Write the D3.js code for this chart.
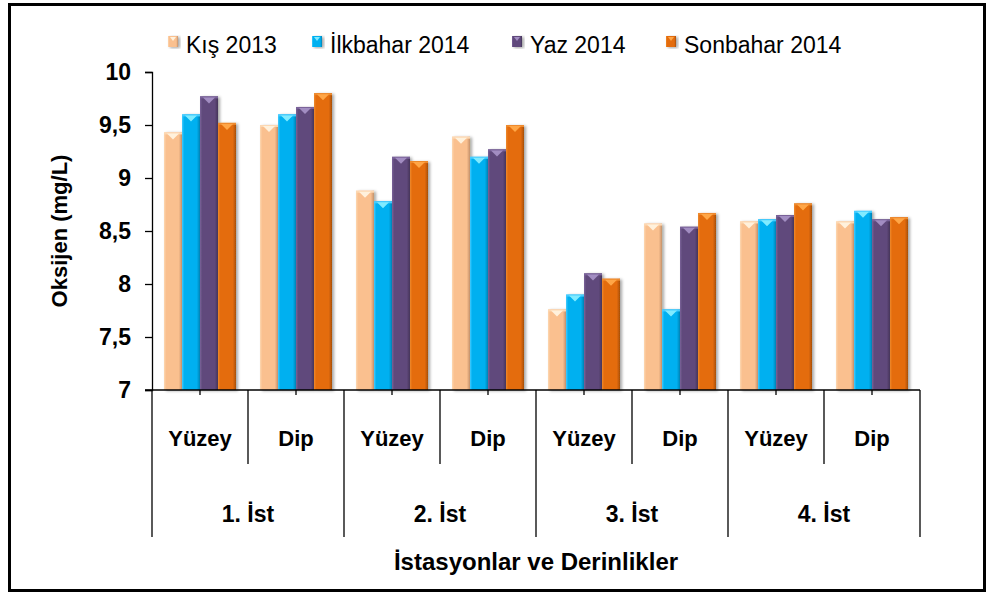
<!DOCTYPE html>
<html>
<head>
<meta charset="utf-8">
<script src="https://cdn.jsdelivr.net/npm/d3@7"></script>
<style>
  body { margin: 0; background: #fff; }
  text { font-family: "Liberation Sans", Arial, sans-serif; }
</style>
</head>
<body>
<div id="chart"></div>
<script>
// data
var stations = ["1. İst", "2. İst", "3. İst", "4. İst"];
var depths = ["Yüzey", "Dip"];
var seriesNames = ["Kış 2013", "İlkbahar 2014", "Yaz 2014", "Sonbahar 2014"];
var kis2013 = [9.43, 9.5, 8.88, 9.39, 7.76, 8.57, 8.59, 8.59];
var ilkbahar2014 = [9.6, 9.6, 8.78, 9.2, 7.9, 7.76, 8.61, 8.69];
var yaz2014 = [9.77, 9.67, 9.2, 9.27, 8.1, 8.54, 8.65, 8.61];
var sonbahar2014 = [9.52, 9.8, 9.16, 9.5, 8.05, 8.67, 8.76, 8.63];
var yTicks = [7, 7.5, 8, 8.5, 9, 9.5, 10];

var width = 993, height = 596;
var plotLeft = 152, plotRight = 920, plotTop = 72, plotBottom = 390;

var colors = [
  { base: "#FAC08F", light: "#FDD8B2", dark: "#C4916A", tri: "#FFF1DC" },
  { base: "#00B0F0", light: "#45CCFF", dark: "#0083B5", tri: "#80EBFF" },
  { base: "#604A7B", light: "#7A639A", dark: "#45345A", tri: "#A28DC2" },
  { base: "#E46C0A", light: "#EE8A2E", dark: "#A84F06", tri: "#FFA646" }
];

var allSeries = [kis2013, ilkbahar2014, yaz2014, sonbahar2014];

// flat category list: station x depth
var cats = [];
stations.forEach(function (s) {
  depths.forEach(function (d) { cats.push(s + "|" + d); });
});

var svg = d3.select("#chart").append("svg")
  .attr("width", width).attr("height", height);

var defs = svg.append("defs");
colors.forEach(function (c, i) {
  var g = defs.append("linearGradient").attr("id", "grad" + i)
    .attr("x1", "0").attr("x2", "1").attr("y1", "0").attr("y2", "0");
  g.append("stop").attr("offset", "0%").attr("stop-color", c.light);
  g.append("stop").attr("offset", "12%").attr("stop-color", c.base);
  g.append("stop").attr("offset", "82%").attr("stop-color", c.base);
  g.append("stop").attr("offset", "100%").attr("stop-color", c.dark);
});
var f = defs.append("filter").attr("id", "shadow")
  .attr("x", "-20%").attr("y", "-5%").attr("width", "150%").attr("height", "115%");
f.append("feDropShadow").attr("dx", 2).attr("dy", 1).attr("stdDeviation", 1.5)
  .attr("flood-color", "#000").attr("flood-opacity", 0.35);

// frame
svg.append("rect").attr("x", 9.5).attr("y", 4.5).attr("width", 975).attr("height", 586)
  .attr("fill", "none").attr("stroke", "#000").attr("stroke-width", 3);

var x0 = d3.scaleBand().domain(cats).range([plotLeft, plotRight]).padding(0);
var x1 = d3.scaleBand().domain(d3.range(seriesNames.length))
  .range([0, x0.bandwidth()]).paddingInner(0).paddingOuter(0.667);
var y = d3.scaleLinear().domain([7, 10]).range([plotBottom, plotTop]);

// bars
var groups = svg.selectAll("g.cat").data(cats).enter().append("g")
  .attr("class", "cat")
  .attr("transform", function (d) { return "translate(" + x0(d) + ",0)"; });

groups.each(function (cat, ci) {
  var g = d3.select(this);
  allSeries.forEach(function (vals, si) {
    var bx = x1(si), bw = x1.bandwidth(), by = y(vals[ci]);
    var bar = g.append("g").attr("filter", "url(#shadow)");
    bar.append("rect").attr("x", bx).attr("y", by)
      .attr("width", bw).attr("height", y(7) - by)
      .attr("fill", "url(#grad" + si + ")");
    bar.append("rect").attr("x", bx).attr("y", by)
      .attr("width", bw).attr("height", 2)
      .attr("fill", colors[si].light);
    bar.append("path")
      .attr("d", "M" + (bx + 3) + "," + (by + 1) + "L" + (bx + bw - 3) + "," + (by + 1) +
        "L" + (bx + bw / 2) + "," + (by + 7) + "Z")
      .attr("fill", colors[si].tri);
  });
});

// y axis
var yAxis = d3.axisLeft(y).tickValues(yTicks).tickSize(7).tickPadding(14)
  .tickFormat(function (d) { return String(d).replace(".", ","); });
var ya = svg.append("g").attr("transform", "translate(" + plotLeft + ",0)").call(yAxis);
ya.select(".domain").attr("stroke", "#000").attr("stroke-width", 1.3);
ya.selectAll(".tick line").attr("stroke", "#000").attr("stroke-width", 1.3);
ya.selectAll(".tick text").attr("font-size", 23).attr("font-weight", "bold").attr("fill", "#000");

// x axis line
svg.append("line").attr("x1", plotLeft - 7).attr("x2", plotRight).attr("y1", plotBottom).attr("y2", plotBottom)
  .attr("stroke", "#000").attr("stroke-width", 1.5);

// midpoint ticks
svg.selectAll("line.mid").data(cats).enter().append("line").attr("class", "mid")
  .attr("x1", function (d) { return x0(d) + x0.bandwidth() / 2; })
  .attr("x2", function (d) { return x0(d) + x0.bandwidth() / 2; })
  .attr("y1", plotBottom).attr("y2", plotBottom + 5)
  .attr("stroke", "#000").attr("stroke-width", 1.3);

// dividers: short between depths, long between stations
var bounds = cats.map(function (d) { return x0(d); }).concat([plotRight]);
svg.selectAll("line.div").data(bounds).enter().append("line").attr("class", "div")
  .attr("x1", function (d) { return d; }).attr("x2", function (d) { return d; })
  .attr("y1", plotBottom)
  .attr("y2", function (d, i) { return i % 2 === 0 ? 537 : 464; })
  .attr("stroke", "#000").attr("stroke-width", 1.3);

// depth labels
svg.selectAll("text.depth").data(cats).enter().append("text").attr("class", "depth")
  .attr("x", function (d) { return x0(d) + x0.bandwidth() / 2; })
  .attr("y", 446)
  .attr("text-anchor", "middle").attr("font-size", 22).attr("font-weight", "bold")
  .text(function (d) { return d.split("|")[1]; });

// station labels
svg.selectAll("text.station").data(stations).enter().append("text").attr("class", "station")
  .attr("x", function (d) { return x0(d + "|" + depths[0]) + x0.bandwidth(); })
  .attr("y", 522)
  .attr("text-anchor", "middle").attr("font-size", 23).attr("font-weight", "bold")
  .text(function (d) { return d; });

// axis titles
svg.append("text").attr("x", (plotLeft + plotRight) / 2).attr("y", 570)
  .attr("text-anchor", "middle").attr("font-size", 24).attr("font-weight", "bold")
  .text("İstasyonlar ve Derinlikler");
svg.append("text").attr("transform", "translate(67,231) rotate(-90)")
  .attr("text-anchor", "middle").attr("font-size", 22).attr("font-weight", "bold")
  .text("Oksijen (mg/L)");

// legend
var legendX = [168, 312, 512, 666];
var lg = svg.selectAll("g.leg").data(seriesNames).enter().append("g").attr("class", "leg")
  .attr("transform", function (d, i) { return "translate(" + legendX[i] + ",36)"; });
lg.append("rect").attr("width", 10).attr("height", 11)
  .attr("fill", function (d, i) { return "url(#grad" + i + ")"; })
  .attr("filter", "url(#shadow)");
lg.append("path").attr("d", "M2,1L8,1L5,5Z")
  .attr("fill", function (d, i) { return colors[i].tri; });
lg.append("text").attr("x", 18).attr("y", 17).attr("font-size", 23)
  .text(function (d) { return d; });
</script>
</body>
</html>
